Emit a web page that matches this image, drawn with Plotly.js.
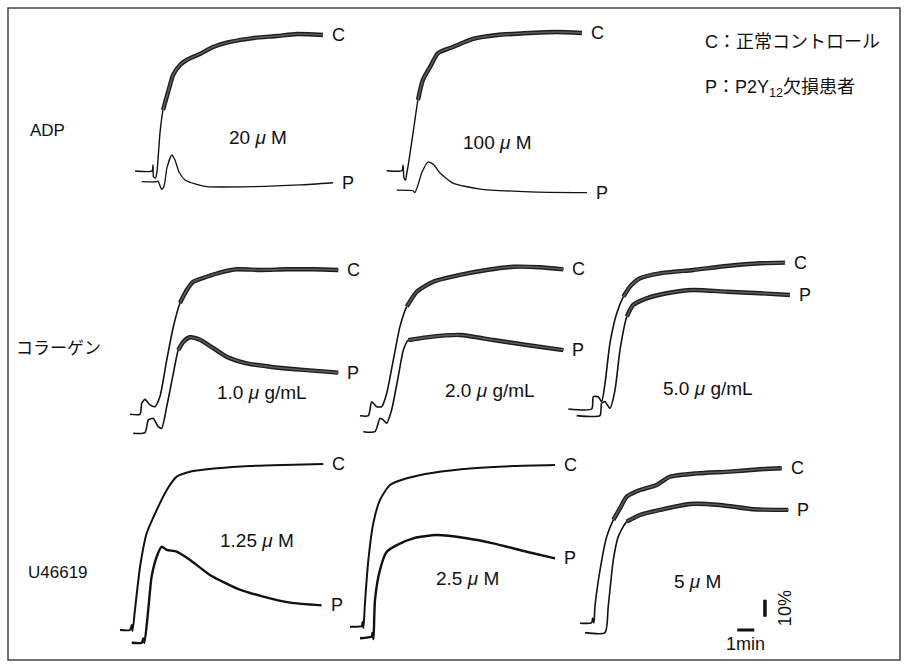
<!DOCTYPE html>
<html><head><meta charset="utf-8">
<script src="https://cdn.plot.ly/plotly-3.0.1.min.js"></script>
<style>html,body{margin:0;padding:0;background:#fff}#chart{width:909px;height:668px}</style>
</head><body><div id="chart"></div>
<script>
// ---- DATA: time (min) and aggregation (%) ----
// ADP 20 µM
const adp20_tC = [0,1.00,1.06,1.09,1.21,1.29,1.47,1.65,1.86,2.06,2.24,2.65,3.04,3.82,4.59,5.59,6.94,8.35,9.53,11.06];
const adp20_C  = [0,0,3.5,-3.5,-4.1,-0.6,22.4,35.9,43.5,50.6,56.5,62.4,65.3,68.8,72.9,75.9,78.2,79.4,80.6,80.0];
const adp20_tP = [0.39,1.28,1.35,1.57,1.71,1.88,2.16,2.35,2.59,2.94,3.53,4.22,6.94,9.71,11.65];
const adp20_P  = [-6.3,-6.3,-5.9,-10.8,-8.8,1.8,9.4,6.5,-0.6,-5.3,-7.6,-9.2,-9.2,-8.2,-6.9];
// ADP 100 µM
const adp100_tC = [0,0.90,0.96,1.02,1.11,1.19,1.25,1.55,1.84,2.13,2.55,3.02,3.90,5.08,6.49,8.43,10.02,11.49];
const adp100_C  = [0,0,3.4,-4.3,-5.5,-0.8,2.2,22.2,41.6,53.4,61.0,69.2,72.8,77.5,79.8,81.0,81.6,81.0];
const adp100_tP = [0.59,1.55,1.66,1.84,2.08,2.43,2.78,3.14,3.90,5.49,8.43,11.78];
const adp100_P  = [-11.4,-11.8,-12.9,-8.4,-0.8,5.1,3.3,-1.4,-7.3,-10.8,-12.4,-12.9];
// Collagen 1.0 µg/mL
const col1_tC = [0,0.59,0.69,0.88,1.18,1.47,1.76,2.16,2.55,2.94,3.34,3.72,4.51,5.29,6.28,7.65,9.22,10.78,12.25];
const col1_C  = [0,0,6.5,8.8,5.5,4.5,10.4,31.9,51.5,65.5,73.1,78.0,80.9,83.3,85.3,84.9,85.3,85.3,84.9];
const col1_tP = [0.19,0.88,1.08,1.37,1.66,1.86,2.16,2.55,2.84,3.14,3.53,4.12,4.90,5.69,6.86,8.24,10.19,12.25];
const col1_P  = [-11.2,-10.8,-3.3,-2.4,-7.3,-8.2,4.5,24.1,37.8,42.7,45.3,43.8,38.9,33.9,30.0,28.0,26.1,24.5];
// Collagen 2.0 µg/mL
const col2_tC = [0,0.49,0.69,0.98,1.28,1.57,1.96,2.35,2.75,3.34,4.31,5.88,7.45,9.02,10.59,11.96];
const col2_C  = [0,0,8.2,5.3,5.3,13.2,32.8,52.4,64.1,72.9,78.8,82.8,85.7,87.6,87.3,86.1];
const col2_tP = [0.19,0.88,1.18,1.37,1.57,1.86,2.25,2.55,2.84,3.92,5.88,7.84,9.81,11.96];
const col2_P  = [-9.4,-9.4,-1.5,-2.5,-4.4,3.4,23.0,38.6,44.5,46.1,47.5,44.5,41.6,38.6];
// Collagen 5.0 µg/mL
const col5_tC = [0,1.38,1.47,1.76,1.96,2.16,2.45,2.85,3.24,3.63,4.22,5.39,7.35,9.32,11.28,12.75];
const col5_C  = [0,0,7.2,7.2,4.3,15.1,38.6,56.3,66.1,72.0,76.9,79.8,81.8,84.1,85.7,86.1];
const col5_tP = [0.49,1.86,1.96,2.16,2.45,2.75,3.04,3.44,3.82,4.61,5.79,7.35,9.32,11.28,13.04];
const col5_P  = [-3.9,-3.9,3.4,4.3,0.4,11.2,34.7,54.3,61.2,65.1,68.1,70.0,69.0,68.1,67.1];
// U46619 1.25 µM
const u125_tC = [0,0.59,0.69,0.74,0.88,1.18,1.57,2.16,2.75,3.34,4.12,5.69,7.65,9.61,11.96];
const u125_C  = [0,0,2.9,-0.6,11.8,37.2,56.9,70.6,82.4,90.2,93.1,95.1,96.5,97.1,97.6];
const u125_tP = [0.69,1.28,1.37,1.44,1.66,1.86,2.16,2.45,2.75,3.34,4.12,5.29,6.86,8.43,10.00,11.86];
const u125_P  = [-7.5,-7.5,-4.9,-7.6,11.8,31.4,43.1,49.0,47.1,46.1,41.2,32.4,24.5,19.6,16.1,14.5];
// U46619 2.5 µM
const u25_tC = [0,0.69,0.74,0.79,0.88,1.08,1.37,1.76,2.35,3.34,4.90,7.25,9.61,12.06];
const u25_C  = [0,0.4,2.8,-0.8,13.8,39.2,60.8,74.5,83.4,87.3,90.6,93.2,94.5,95.1];
const u25_tP = [0.59,1.28,1.32,1.38,1.47,1.76,2.16,2.75,3.72,5.10,6.86,8.43,10.39,12.06];
const u25_P  = [-6.8,-5.9,-3.7,-7.3,15.7,33.3,44.1,48.0,52.0,53.9,52.0,49.0,44.1,40.2];
// U46619 5 µM
const u5_tC = [0,0.69,0.74,0.82,0.88,1.18,1.57,1.96,2.35,2.75,3.53,4.51,5.29,6.86,8.82,10.59,11.86];
const u5_C  = [0,0.4,3.1,0.2,9.8,31.4,50.9,60.8,67.6,74.5,78.4,81.4,86.2,88.2,89.2,90.6,91.2];
const u5_tP = [0.29,1.47,1.66,1.96,2.25,2.75,3.53,4.71,6.47,8.24,10.19,12.25];
const u5_P  = [-5.5,-5.5,9.8,37.3,51.0,59.8,63.7,66.7,70.2,69.6,67.1,66.7];

// Labels
const rowLabels = ['ADP','コラーゲン','U46619'];
const concLabels = ['20 <i>μ</i> M','100 <i>μ</i> M','1.0 <i>μ</i> g/mL','2.0 <i>μ</i> g/mL','5.0 <i>μ</i> g/mL','1.25 <i>μ</i> M','2.5 <i>μ</i> M','5 <i>μ</i> M'];
const legendLines = ['C：正常コントロール','P：P2Y<sub>12</sub>欠損患者'];
const scaleMin = 1;     // scale bar: 1 min
const scalePct = 10;    // scale bar: 10 %
const scaleLabels = ['1min','10%'];

// ---- LAYOUT / STYLE ----
const W=909,H=668, PX_PER_MIN=17, PX_PER_PCT=1.7;
const XR=[-1,14], YR=[-20,100];
const panels = [
  {tC:adp20_tC, C:adp20_C, tP:adp20_tP, P:adp20_P, pos:[135,171],   noisyC:1.6, noisyP:null, wC:1.4, wP:1.3},
  {tC:adp100_tC,C:adp100_C,tP:adp100_tP,P:adp100_P,pos:[386.7,170.7],noisyC:1.8, noisyP:null, wC:1.4, wP:1.3},
  {tC:col1_tC,  C:col1_C,  tP:col1_tP,  P:col1_P,  pos:[130,414.3], noisyC:2.9, noisyP:2.8, wC:1.6, wP:1.6},
  {tC:col2_tC,  C:col2_C,  tP:col2_tP,  P:col2_P,  pos:[360,415.7], noisyC:2.5, noisyP:2.8, wC:1.6, wP:1.6},
  {tC:col5_tC,  C:col5_C,  tP:col5_tP,  P:col5_P,  pos:[568.3,409], noisyC:2.9, noisyP:3.2, wC:1.6, wP:1.6},
  {tC:u125_tC,  C:u125_C,  tP:u125_tP,  P:u125_P,  pos:[120,630],   noisyC:null,noisyP:null, wC:2.0, wP:2.4},
  {tC:u25_tC,   C:u25_C,   tP:u25_tP,   P:u25_P,   pos:[350,626.7], noisyC:null,noisyP:null, wC:2.0, wP:2.4},
  {tC:u5_tC,    C:u5_C,    tP:u5_tP,    P:u5_P,    pos:[580,623.3], noisyC:1.6, noisyP:2.5, wC:1.6, wP:1.6}
];
const concPos = [[258,137],[498,143],[262,392],[490,390],[708,388],[257,540],[467,578],[697,581]];
const rowPos = [[47,130],[58,348],[58,572]];
const FONT = 'Liberation Sans, Arial, Noto Sans CJK JP, sans-serif';
const FS_CONC=19, FS_CP=18, FS_LEG=18, FS_ROW=17, FS_SCALE=18;

const layout = {width:W,height:H,margin:{l:0,r:0,t:0,b:0},showlegend:false,
  paper_bgcolor:'#fff',plot_bgcolor:'rgba(0,0,0,0)',annotations:[],shapes:[]};
const traces=[];

function addLine(x,y,ax,width,color){
  traces.push({type:'scatter',mode:'lines',x:x,y:y,xaxis:'x'+ax,yaxis:'y'+ax,
    line:{color:color,width:width,shape:'spline',smoothing:0.6},hoverinfo:'skip'});
}
function addNoisy(t,v,from,ax){
  if(from===null) return;
  const x=[],y=[];
  t.forEach((tt,i)=>{ if(tt>=from){x.push(tt);y.push(v[i]);} });
  addLine(x,y,ax,4.4,'#1e1e1e');
  addLine(x,y,ax,1.6,'#5c5c5c');
}

panels.forEach((p,i)=>{
  const n=i+1, ax = n===1?'':String(n);
  const [x0,yb]=p.pos;
  const xd=[(x0+PX_PER_MIN*XR[0])/W,(x0+PX_PER_MIN*XR[1])/W];
  const top=yb-PX_PER_PCT*YR[1], bot=yb-PX_PER_PCT*YR[0];
  const yd=[Math.max(0,1-bot/H),Math.min(1,1-top/H)];
  layout['xaxis'+ax]={domain:xd,range:XR,visible:false,fixedrange:true,anchor:'y'+ax};
  layout['yaxis'+ax]={domain:yd,range:YR,visible:false,fixedrange:true,anchor:'x'+ax};
  addLine(p.tC,p.C,ax,p.wC,'#111');
  addLine(p.tP,p.P,ax,p.wP,'#111');
  addNoisy(p.tC,p.C,p.noisyC,ax);
  addNoisy(p.tP,p.P,p.noisyP,ax);
  const lc=p.tC.length-1, lp=p.tP.length-1;
  layout.annotations.push({xref:'x'+ax,yref:'y'+ax,x:p.tC[lc],y:p.C[lc],text:'C',showarrow:false,
    xanchor:'left',xshift:7,font:{family:FONT,size:FS_CP,color:'#111'}});
  layout.annotations.push({xref:'x'+ax,yref:'y'+ax,x:p.tP[lp],y:p.P[lp],text:'P',showarrow:false,
    xanchor:'left',xshift:7,font:{family:FONT,size:FS_CP,color:'#111'}});
  layout.annotations.push({xref:'paper',yref:'paper',x:concPos[i][0]/W,y:1-concPos[i][1]/H,text:concLabels[i],
    showarrow:false,xanchor:'center',yanchor:'middle',font:{family:FONT,size:FS_CONC,color:'#111'}});
});

// scale bars in the U46619 5 µM panel (axis 8)
const sx0=9.25, sy0=-3.9, vx=10.88, vy0=3.9;
traces.push({type:'scatter',mode:'lines',x:[sx0,sx0+scaleMin],y:[sy0,sy0],xaxis:'x8',yaxis:'y8',line:{color:'#111',width:3},hoverinfo:'skip'});
traces.push({type:'scatter',mode:'lines',x:[vx,vx],y:[vy0,vy0+scalePct],xaxis:'x8',yaxis:'y8',line:{color:'#111',width:3.5},hoverinfo:'skip'});
layout.annotations.push({xref:'x8',yref:'y8',x:sx0+scaleMin/2,y:sy0,text:scaleLabels[0],showarrow:false,yanchor:'top',yshift:-2,
  font:{family:FONT,size:FS_SCALE,color:'#111'}});
layout.annotations.push({xref:'x8',yref:'y8',x:vx,y:vy0+scalePct/2,text:scaleLabels[1],showarrow:false,textangle:-90,xanchor:'left',xshift:8,
  font:{family:FONT,size:FS_SCALE,color:'#111'}});

rowLabels.forEach((t,i)=>layout.annotations.push({xref:'paper',yref:'paper',x:rowPos[i][0]/W,y:1-rowPos[i][1]/H,text:t,showarrow:false,
  xanchor:'center',yanchor:'middle',font:{family:FONT,size:FS_ROW,color:'#111'}}));
legendLines.forEach((t,i)=>layout.annotations.push({xref:'paper',yref:'paper',x:703/W,y:1-(42+46*i)/H,text:t,showarrow:false,
  xanchor:'left',yanchor:'middle',font:{family:FONT,size:FS_LEG,color:'#111'}}));

layout.shapes.push({type:'rect',xref:'paper',yref:'paper',x0:8/W,x1:900/W,y0:1-660/H,y1:1-8/H,line:{color:'#444',width:1.5}});

Plotly.newPlot('chart',traces,layout,{staticPlot:true,displayModeBar:false});
</script></body></html>
